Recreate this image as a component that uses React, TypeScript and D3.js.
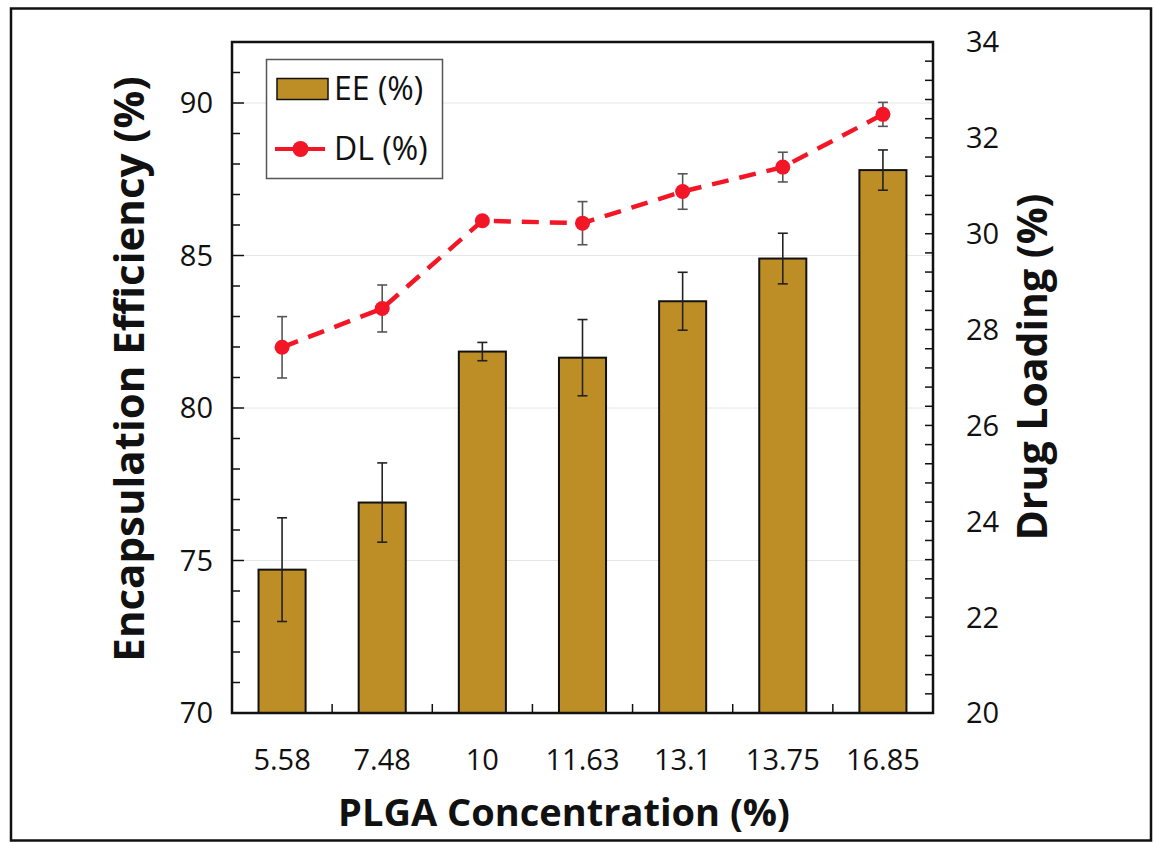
import * as d3 from 'd3';

// PLGA concentration categories
const CATEGORIES = ['5.58', '7.48', '10', '11.63', '13.1', '13.75', '16.85'];

// Encapsulation efficiency (%) and error
const EE = [74.7, 76.9, 81.85, 81.65, 83.5, 84.9, 87.8];
const EE_ERR = [1.7, 1.3, 0.3, 1.25, 0.95, 0.83, 0.66];

// Drug loading (%) and error
const DL = [27.63, 28.44, 30.27, 30.22, 30.88, 31.39, 32.49];
const DL_ERR = [0.64, 0.49, 0.05, 0.45, 0.37, 0.31, 0.25];

const LEFT_TICKS = [70, 75, 80, 85, 90];
const RIGHT_TICKS = [20, 22, 24, 26, 28, 30, 32, 34];

const W = 1154;
const H = 842;
const M = { left: 232, right: 933, top: 42, bottom: 713 };

const BAR_FILL = '#BE8E26';
const RED = '#F21626';
const FONT = '"Open Sans", Lato, sans-serif';

export default function App() {
  const x = d3
    .scaleBand<string>()
    .domain(CATEGORIES)
    .range([M.left, M.right])
    .paddingInner(0.53)
    .paddingOuter(0.265);

  const yL = d3.scaleLinear().domain([70, 92]).range([M.bottom, M.top]);
  const yR = d3.scaleLinear().domain([20, 34]).range([M.bottom, M.top]);

  const cx = (c: string) => (x(c) ?? 0) + x.bandwidth() / 2;

  const line = d3
    .line<number>()
    .x((_, i) => cx(CATEGORIES[i]))
    .y((d) => yR(d));

  const minorL = d3.range(71, 92, 1).filter((v) => v % 5 !== 0);
  const minorR = d3.range(0, 36).map((i) => 20 + i * 0.4).filter((v) => v <= 34.001);
  const step = x.step();
  const catTicks = d3.range(1, CATEGORIES.length).map((i) => M.left + step * i);

  return (
    <svg
      width={W}
      height={H}
      style={{ position: 'absolute', left: 0, top: 0, background: '#fff' }}
      fontFamily={FONT}
    >
      {/* outer frame */}
      <rect x={11} y={8.5} width={1140} height={832} fill="none" stroke="#111" strokeWidth={2.5} />

      {/* gridlines */}
      {LEFT_TICKS.filter((v) => v > 70).map((v) => (
        <line key={'g' + v} x1={M.left} x2={M.right} y1={yL(v)} y2={yL(v)} stroke="#e6e6e6" strokeWidth={1} />
      ))}

      {/* bars */}
      {CATEGORIES.map((c, i) => (
        <rect
          key={'b' + c}
          x={x(c)}
          y={yL(EE[i])}
          width={x.bandwidth()}
          height={yL(70) - yL(EE[i])}
          fill={BAR_FILL}
          stroke="#111"
          strokeWidth={2}
        />
      ))}

      {/* EE error bars */}
      {CATEGORIES.map((c, i) => {
        const xc = cx(c);
        const y1 = yL(EE[i] + EE_ERR[i]);
        const y2 = yL(EE[i] - EE_ERR[i]);
        return (
          <g key={'ee' + c} stroke="#222" strokeWidth={1.6}>
            <line x1={xc} x2={xc} y1={y1} y2={y2} />
            <line x1={xc - 5} x2={xc + 5} y1={y1} y2={y1} />
            <line x1={xc - 5} x2={xc + 5} y1={y2} y2={y2} />
          </g>
        );
      })}

      {/* DL error bars */}
      {CATEGORIES.map((c, i) => {
        const xc = cx(c);
        const y1 = yR(DL[i] + DL_ERR[i]);
        const y2 = yR(DL[i] - DL_ERR[i]);
        return (
          <g key={'dl' + c} stroke="#555" strokeWidth={1.6}>
            <line x1={xc} x2={xc} y1={y1} y2={y2} />
            <line x1={xc - 5} x2={xc + 5} y1={y1} y2={y1} />
            <line x1={xc - 5} x2={xc + 5} y1={y2} y2={y2} />
          </g>
        );
      })}

      {/* DL line */}
      <path d={line(DL) ?? ''} fill="none" stroke={RED} strokeWidth={4.5} strokeDasharray="17 11" />
      {CATEGORIES.map((c, i) => (
        <circle key={'m' + c} cx={cx(c)} cy={yR(DL[i])} r={7.5} fill={RED} />
      ))}

      {/* plot frame */}
      <rect
        x={M.left}
        y={M.top}
        width={M.right - M.left}
        height={M.bottom - M.top}
        fill="none"
        stroke="#111"
        strokeWidth={2.5}
      />

      {/* left ticks */}
      {LEFT_TICKS.map((v) => (
        <line key={'lt' + v} x1={M.left} x2={M.left + 12} y1={yL(v)} y2={yL(v)} stroke="#111" strokeWidth={1.5} />
      ))}
      {minorL.map((v) => (
        <line key={'lm' + v} x1={M.left} x2={M.left + 8} y1={yL(v)} y2={yL(v)} stroke="#111" strokeWidth={1.5} />
      ))}
      {LEFT_TICKS.map((v) => (
        <text key={'ll' + v} x={213} y={yL(v)} dy="0.36em" textAnchor="end" fontSize={29} fill="#111">
          {v}
        </text>
      ))}

      {/* right ticks */}
      {minorR.map((v, i) => (
        <line key={'rm' + i} x1={M.right - 8} x2={M.right} y1={yR(v)} y2={yR(v)} stroke="#111" strokeWidth={1.5} />
      ))}
      {RIGHT_TICKS.map((v) => (
        <text key={'rl' + v} x={966} y={yR(v)} dy="0.36em" textAnchor="start" fontSize={29} fill="#111">
          {v}
        </text>
      ))}

      {/* bottom ticks */}
      {catTicks.map((t, i) => (
        <line key={'bt' + i} x1={t} x2={t} y1={M.bottom} y2={M.bottom - 9} stroke="#111" strokeWidth={1.5} />
      ))}
      {CATEGORIES.map((c) => (
        <text key={'xl' + c} x={cx(c)} y={770} textAnchor="middle" fontSize={29} fill="#111">
          {c}
        </text>
      ))}

      {/* axis titles */}
      <text x={564} y={826} textAnchor="middle" fontSize={38} fontWeight="bold" fill="#111">
        PLGA Concentration (%)
      </text>
      <text
        transform="translate(144,369) rotate(-90)"
        textAnchor="middle"
        fontSize={42}
        fontWeight="bold"
        fill="#111"
      >
        Encapsulation Efficiency (%)
      </text>
      <text
        transform="translate(1047,367) rotate(-90)"
        textAnchor="middle"
        fontSize={41}
        fontWeight="bold"
        fill="#111"
      >
        Drug Loading (%)
      </text>

      {/* legend */}
      <g>
        <rect x={266.5} y={59.5} width={176} height={119} fill="#fff" stroke="#555" strokeWidth={1.5} />
        <rect x={277} y={78.5} width={51} height={21} fill={BAR_FILL} stroke="#111" strokeWidth={1.5} />
        <text x={334} y={100} fontSize={32} fill="#111">
          EE (%)
        </text>
        <line x1={275} x2={325} y1={149} y2={149} stroke={RED} strokeWidth={4} />
        <circle cx={300.5} cy={149} r={8} fill={RED} />
        <text x={334} y={160} fontSize={32} fill="#111">
          DL (%)
        </text>
      </g>
    </svg>
  );
}
